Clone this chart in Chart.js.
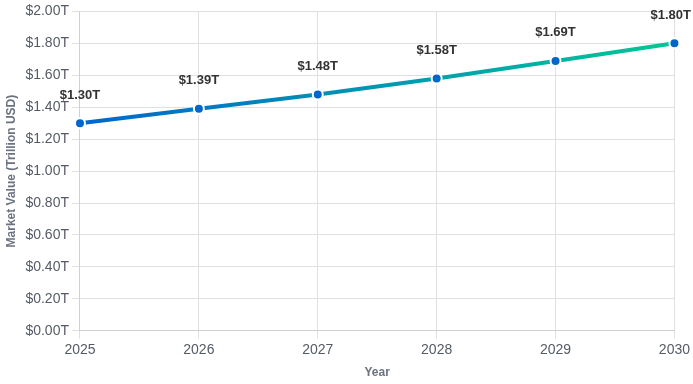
<!DOCTYPE html>
<html>
<head>
<meta charset="utf-8">
<script src="https://cdn.jsdelivr.net/npm/chart.js@4/dist/chart.umd.min.js"></script>
<style>
html,body{margin:0;padding:0;background:#fff;}
#wrap{width:693px;height:384px;position:relative;}
</style>
</head>
<body>
<div id="wrap"><canvas id="c"></canvas></div>
<script>
const years = ['2025','2026','2027','2028','2029','2030'];
const marketValue = [1.30, 1.39, 1.48, 1.58, 1.69, 1.80];
const yMin = 0, yMax = 2.0, yStep = 0.2;

const labelPlugin = {
  id: 'valLabels',
  afterDatasetsDraw(chart) {
    const ctx = chart.ctx;
    const meta = chart.getDatasetMeta(0);
    ctx.save();
    ctx.font = 'bold 13px "Liberation Sans", Arial, sans-serif';
    ctx.fillStyle = '#333333';
    ctx.textAlign = 'center';
    ctx.textBaseline = 'middle';
    meta.data.forEach((pt, i) => {
      const txt = '$' + marketValue[i].toFixed(2) + 'T';
      const w = ctx.measureText(txt).width;
      let x = pt.x;
      if (x + w / 2 > chart.width - 2) x = chart.width - 2 - w / 2;
      ctx.fillText(txt, x, pt.y - 28);
    });
    ctx.restore();
  }
};

const ctx = document.getElementById('c');
new Chart(ctx, {
  type: 'line',
  data: {
    labels: years,
    datasets: [{
      data: marketValue,
      borderWidth: 4,
      borderColor: function(context) {
        const chart = context.chart;
        const a = chart.chartArea;
        if (!a) return '#0066cc';
        const g = chart.ctx.createLinearGradient(a.left, 0, a.right, 0);
        g.addColorStop(0, '#0066cc');
        g.addColorStop(1, '#00c896');
        return g;
      },
      pointBackgroundColor: '#0066cc',
      pointBorderColor: '#ffffff',
      pointBorderWidth: 2,
      pointRadius: 5,
      tension: 0,
      fill: false
    }]
  },
  options: {
    responsive: true,
    maintainAspectRatio: false,
    animation: false,
    layout: { padding: { top: 6, right: 12, left: 0, bottom: 0 } },
    plugins: { legend: { display: false }, tooltip: { enabled: false } },
    scales: {
      x: {
        grid: { color: '#e0e0e0' },
        border: { color: '#d0d0d0' },
        ticks: { color: '#555b66', font: { size: 14, family: '"Liberation Sans", Arial, sans-serif' } },
        title: { display: true, text: 'Year', color: '#6b7280', font: { size: 12, weight: 'bold', family: '"Liberation Sans", Arial, sans-serif' } }
      },
      y: {
        min: yMin, max: yMax,
        grid: { color: '#e0e0e0' },
        border: { color: '#d0d0d0' },
        ticks: {
          stepSize: yStep,
          color: '#555b66',
          font: { size: 14, family: '"Liberation Sans", Arial, sans-serif' },
          callback: v => '$' + Number(v).toFixed(2) + 'T'
        },
        title: { display: true, text: 'Market Value (Trillion USD)', color: '#6b7280', font: { size: 12, weight: 'bold', family: '"Liberation Sans", Arial, sans-serif' } }
      }
    }
  },
  plugins: [labelPlugin]
});
</script>
</body>
</html>
